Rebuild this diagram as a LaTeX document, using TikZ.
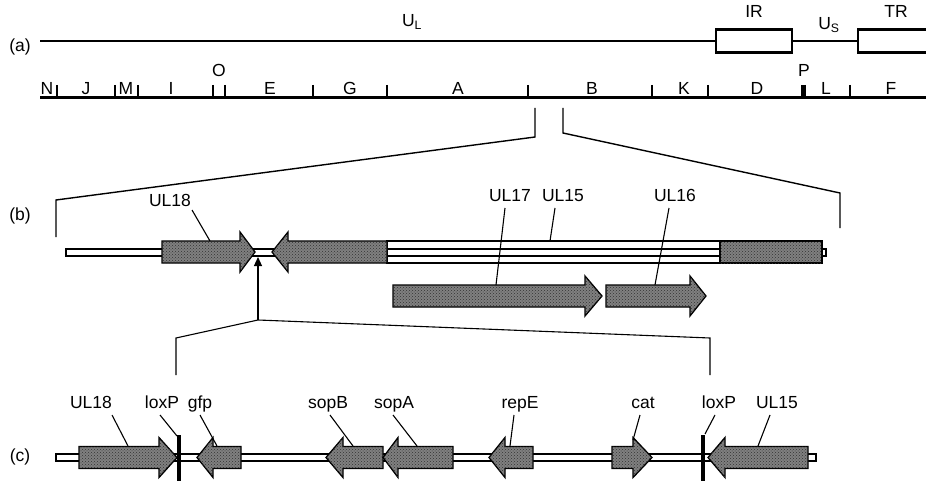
\documentclass[tikz,border=0pt]{standalone}
\usepackage{fontspec}
\setmainfont{Liberation Sans}
\usetikzlibrary{arrows.meta,patterns}
\newcommand{\geneshape}[4]{\draw[gene] (#1,#4-11) -- (#2,#4-11) -- (#2,#4-20) -- (#3,#4) -- (#2,#4+20) -- (#2,#4+11) -- (#1,#4+11) -- cycle;}
\begin{document}
\begin{tikzpicture}[x=1pt,y=-1pt,
  lab/.style={font=\fontsize{17.5}{20}\selectfont, inner sep=0pt, anchor=base},
  thickline/.style={line width=2.8pt},
  tickmark/.style={line width=2.6pt},
  zoomline/.style={line width=1.4pt},
  lead/.style={line width=1.1pt},
  gene/.style={draw=black, line width=1.3pt, fill=black!50, line join=miter,
    postaction={pattern=crosshatch dots, pattern color=black!80}},
  dna/.style={draw=black, line width=1.2pt, fill=white},
  boxnode/.style={draw, line width=2.8pt, inner sep=0pt, minimum height=23pt}]
\useasboundingbox (0,0) rectangle (926,481);

% ---------- (a) ----------
\node[lab] (la) at (20,52) {(a)};
\coordinate (a0) at (40,41);
\node[boxnode, minimum width=76pt] (IR) at (754,41) {};
\node[boxnode, minimum width=80pt] (TR) at (898,41) {};
\draw[thickline] (a0) -- (IR.west);
\draw[thickline] (IR.east) -- (TR.west);
\node[lab] (tUL) at (412,27) {U\textsubscript{L}};
\node[lab] (tIR) at (754,18) {IR};
\node[lab] (tUS) at (829,30) {U\textsubscript{S}};
\node[lab] (tTR) at (896,18) {TR};

\coordinate (r0) at (40,97.5);
\coordinate (r1) at (926,97.5);
\draw[thickline] (r0) -- (r1);
\foreach \x in {57,115,138,213,225,313,387,528,652,708,850}
  \draw[tickmark] (\x,85) -- (\x,97.5);
\draw[line width=5pt] (803,85) -- (803,97.5);
\foreach \t/\x in {N/47,J/86,M/126,I/171,E/270,G/350,A/458,B/592,K/684,D/757,L/826,F/891}
  \node[lab] (f\t) at (\x,95) {\t};
\node[lab] (fO) at (219,77) {O};
\node[lab] (fP) at (804,77) {P};

% zoom lines (a)->(b)
\coordinate (za1) at (535,108); \coordinate (za2) at (535,137);
\coordinate (za3) at (56,200);  \coordinate (za4) at (56,237);
\coordinate (zb1) at (563,108); \coordinate (zb2) at (563,133);
\coordinate (zb3) at (840,193); \coordinate (zb4) at (840,228);
\draw[zoomline] (za1) -- (za2) -- (za3) -- (za4);
\draw[zoomline] (zb1) -- (zb2) -- (zb3) -- (zb4);

% ---------- (b) ----------
\node[lab] (lb) at (20,221) {(b)};
\draw[dna] (66,249) rectangle (826,256);
\draw[line width=1.2pt] (387,241) rectangle (720,263);
\draw[gene] (720,241) rectangle (822,263);
\geneshape{162}{240}{255}{252}
\geneshape{387}{288}{272}{252}
\geneshape{393}{585}{602}{296}
\geneshape{606}{690}{706}{296}

\node[lab] (bUL18) at (170,207) {UL18};
\node[lab] (bUL17) at (510,201) {UL17};
\node[lab] (bUL15) at (563,201) {UL15};
\node[lab] (bUL16) at (675,201) {UL16};
\coordinate (b18s) at (192,210); \coordinate (b18e) at (210,241);
\coordinate (b17s) at (505,208); \coordinate (b17e) at (496,285);
\coordinate (b15s) at (555,208); \coordinate (b15e) at (550,241);
\coordinate (b16s) at (669,208); \coordinate (b16e) at (655,285);
\draw[lead] (b18s) -- (b18e);
\draw[lead] (b17s) -- (b17e);
\draw[lead] (b15s) -- (b15e);
\draw[lead] (b16s) -- (b16e);

% insertion arrow and zoom lines (b)->(c)
\coordinate (ins) at (258,257);
\coordinate (zc0) at (258,320);
\coordinate (zc1) at (176,338); \coordinate (zc2) at (176,375);
\coordinate (zc3) at (710,338); \coordinate (zc4) at (710,375);
\draw[lead, -{Triangle[length=9pt,width=8pt]}] (zc0) -- (ins);
\draw[lead] (zc2) -- (zc1) -- (zc0) -- (zc3) -- (zc4);

% ---------- (c) ----------
\node[lab] (lc) at (20,461) {(c)};
\draw[dna] (56,454) rectangle (816,461);
\geneshape{79}{159}{177}{457.5}
\geneshape{241}{213}{197}{457.5}
\geneshape{383}{343}{326}{457.5}
\geneshape{453}{398}{383}{457.5}
\geneshape{533}{505}{489}{457.5}
\geneshape{612}{633}{652}{457.5}
\geneshape{808}{725}{708}{457.5}
\draw[line width=4pt] (179,435) -- (179,481);
\draw[line width=4pt] (703,435) -- (703,481);

\node[lab] (cUL18) at (91,408) {UL18};
\node[lab] (cloxP1) at (162,408) {loxP};
\node[lab] (cgfp) at (200,408) {gfp};
\node[lab] (csopB) at (328,408) {sopB};
\node[lab] (csopA) at (394,408) {sopA};
\node[lab] (crepE) at (520,408) {repE};
\node[lab] (ccat) at (643,408) {cat};
\node[lab] (cloxP2) at (719,408) {loxP};
\node[lab] (cUL15) at (777,408) {UL15};

\coordinate (c1s) at (112,415); \coordinate (c1e) at (128,446);
\coordinate (c2s) at (160,415); \coordinate (c2e) at (177,436);
\coordinate (c3s) at (200,415); \coordinate (c3e) at (217,446);
\coordinate (c4s) at (330,415); \coordinate (c4e) at (353,446);
\coordinate (c5s) at (393,415); \coordinate (c5e) at (417,446);
\coordinate (c6s) at (514,415); \coordinate (c6e) at (510,446);
\coordinate (c7s) at (640,415); \coordinate (c7e) at (633,440);
\coordinate (c8s) at (715,415); \coordinate (c8e) at (705,434);
\coordinate (c9s) at (770,415); \coordinate (c9e) at (758,446);
\foreach \i in {1,...,9} \draw[lead] (c\i s) -- (c\i e);
\end{tikzpicture}
\end{document}
